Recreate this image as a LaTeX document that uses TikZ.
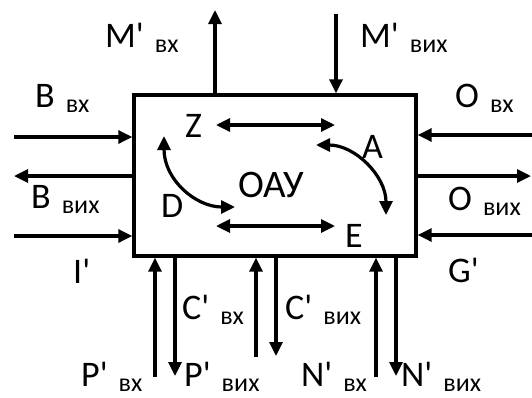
\documentclass[tikz,border=0pt]{standalone}
\usepackage{fontspec}
\setmainfont{Carlito}[Ligatures=TeXOff]
\usetikzlibrary{arrows.meta}
\newcommand{\sigsize}{\fontsize{36}{36}\selectfont}
\newcommand{\subsize}{\fontsize{26}{26}\selectfont}
\newcommand{\sig}[2]{#1\hspace{11pt}\raisebox{-5pt}{\subsize #2}}
\tikzset{
  % --- the unit block ---
  unitbox/.style={draw=black, line width=3.4pt, minimum width=282pt,
                  minimum height=161pt, inner sep=0pt},
  % --- signal and state labels ---
  siglabel/.style={anchor=base west, inner sep=0pt, font=\sigsize},
  % --- connectors ---
  flow/.style={line width=3.2pt, -{Triangle[length=14pt,width=13pt]}},
  flowboth/.style={line width=3.2pt,
                   {Triangle[length=14pt,width=13pt]}-{Triangle[length=14pt,width=13pt]}},
}

\begin{document}
\begin{tikzpicture}[x=1pt, y=-1pt]
  \useasboundingbox (0,0) rectangle (532,397);
  % --- block ---
  \node[unitbox] (oau) at (275,175.5) {};
  \node[siglabel, font=\fontsize{39}{39}\selectfont] (name) at (238,197) {ОАУ};

  % --- inner states ---
  \node[siglabel] (z) at (185,137) {Z};
  \node[siglabel] (a) at (362,158) {A};
  \node[siglabel] (d) at (161,217) {D};
  \node[siglabel] (e) at (345,247) {E};
  \coordinate (zl) at (216,125);
  \coordinate (zr) at (335,125);
  \coordinate (dl) at (216,226);
  \coordinate (dr) at (335,226);
  \draw[flowboth] (zl) -- (zr);
  \draw[flowboth] (dl) -- (dr);
  \coordinate (dtop) at (164,136);
  \coordinate (dbot) at (235,207);
  \coordinate (atop) at (316,145);
  \coordinate (abot) at (386,215);
  \draw[flowboth] (dtop) .. controls (164,180) and (196,207) .. (dbot);
  \draw[flowboth] (atop) .. controls (355,145) and (386,176) .. (abot);

  % --- top inputs/outputs ---
  \coordinate (mout) at (215,10);
  \coordinate (min) at (336,14);
  \draw[flow] (mout |- oau.north) -- (mout);
  \draw[flow] (min) -- (min |- oau.north);
  \node[siglabel] (lmvx) at (105,47) {\sig{M'}{вх}};
  \node[siglabel] (lmvyx) at (360,47) {\sig{M'}{вих}};

  % --- left side ---
  \coordinate (bin) at (14,137);
  \coordinate (bout) at (14,176);
  \coordinate (iin) at (14,236);
  \draw[flow] (bin) -- (bin -| oau.west);
  \draw[flow] (bout -| oau.west) -- (bout);
  \draw[flow] (iin) -- (iin -| oau.west);
  \node[siglabel] (lbvx) at (35,107) {\sig{B}{вх}};
  \node[siglabel] (lbvyx) at (31,208) {\sig{B}{вих}};
  \node[siglabel] (li) at (73,283) {I'};

  % --- right side ---
  \coordinate (oin) at (532,135);
  \coordinate (oout) at (531,176);
  \coordinate (gin) at (532,235);
  \draw[flow] (oin) -- (oin -| oau.east);
  \draw[flow] (oout -| oau.east) -- (oout);
  \draw[flow] (gin) -- (gin -| oau.east);
  \node[siglabel] (lovx) at (455,107) {\sig{O}{вх}};
  \node[siglabel] (lovyx) at (448,210) {\sig{O}{вих}};
  \node[siglabel] (lg) at (448,282) {G'};

  % --- bottom pairs ---
  \coordinate (pin) at (155,377);
  \coordinate (pout) at (175,376);
  \coordinate (cin) at (256,357);
  \coordinate (cout) at (276,356);
  \coordinate (nin) at (376,377);
  \coordinate (nout) at (396,376);
  \draw[flow] (pin) -- (pin |- oau.south);
  \draw[flow] (pout |- oau.south) -- (pout);
  \draw[flow] (cin) -- (cin |- oau.south);
  \draw[flow] (cout |- oau.south) -- (cout);
  \draw[flow] (nin) -- (nin |- oau.south);
  \draw[flow] (nout |- oau.south) -- (nout);
  \node[siglabel] (lcvx) at (182,319) {\sig{C'}{вх}};
  \node[siglabel] (lcvyx) at (285,319) {\sig{C'}{вих}};
  \node[siglabel] (lpvx) at (81,386) {\sig{P'}{вх}};
  \node[siglabel] (lpvyx) at (184,386) {\sig{P'}{вих}};
  \node[siglabel] (lnvx) at (301,386) {\sig{N'}{вх}};
  \node[siglabel] (lnvyx) at (401,386) {\sig{N'}{вих}};
\end{tikzpicture}
\end{document}
